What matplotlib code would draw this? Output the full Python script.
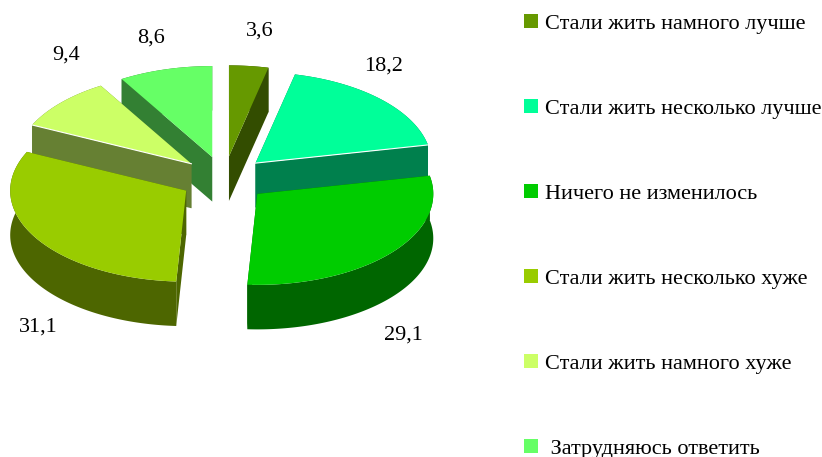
import numpy as np
import matplotlib
matplotlib.use("Agg")
import matplotlib.pyplot as plt
from matplotlib.colors import to_rgb
from matplotlib.patches import Patch

categories = ["Стали жить намного лучше", "Стали жить несколько лучше",
              "Ничего не изменилось", "Стали жить несколько хуже",
              "Стали жить намного хуже", " Затрудняюсь ответить"]
values = [3.6, 18.2, 29.1, 31.1, 9.4, 8.6]
value_labels = ["3,6", "18,2", "29,1", "31,1", "9,4", "8,6"]
colors = ["#669900", "#00FF99", "#00CC00", "#99CC00", "#CCFF66", "#66FF66"]

# layout / style (pixels of the 822x457 canvas)
label_pos = [(260, 31), (384, 66), (403, 335), (38, 327), (66, 55), (151, 38)]
CX, CY, RX, RY, DEPTH, EXPLODE = 224, 179, 176, 91, 44.5, 0.25
DRAW_ORDER = [0, 5, 4, 1, 3, 2]
HIGHLIGHT_END = {1: True}
HIGHLIGHT_START = {4: True}

plt.rcParams["font.family"] = ["Liberation Serif", "DejaVu Serif"]
fig = plt.figure(figsize=(8.22, 4.57), dpi=100)
ax = fig.add_axes([0, 0, 1, 1])
ax.set_xlim(0, 822)
ax.set_ylim(457, 0)
ax.axis("off")

edges = np.concatenate([[0], np.cumsum(values)]) / np.sum(values) * 2 * np.pi


def project(theta, tipx, tipy):
    return tipx + RX * np.sin(theta), tipy - RY * np.cos(theta)


for z, i in enumerate(DRAW_ORDER, start=1):
    a0, a1 = edges[i], edges[i + 1]
    mid = (a0 + a1) / 2
    tx = CX + EXPLODE * RX * np.sin(mid)
    ty = CY - EXPLODE * RY * np.cos(mid)
    th = np.linspace(a0, a1, 120)
    ax_, ay_ = project(th, tx, ty)
    top = to_rgb(colors[i])
    dark = tuple(c * 0.5 for c in top)
    ax.fill(np.r_[ax_, ax_[::-1]], np.r_[ay_, ay_[::-1] + DEPTH], color=dark, lw=0, zorder=z)
    for x_end, y_end in ((ax_[0], ay_[0]), (ax_[-1], ay_[-1])):
        ax.fill([tx, x_end, x_end, tx], [ty, y_end, y_end + DEPTH, ty + DEPTH],
                color=dark, lw=0, zorder=z)
    ax.fill(np.r_[tx, ax_], np.r_[ty, ay_], color=top, lw=0, zorder=z)
    if i in HIGHLIGHT_END:
        ax.plot([tx, ax_[-1]], [ty, ay_[-1]], color="white", lw=0.8, zorder=z)
    if i in HIGHLIGHT_START:
        ax.plot([tx, ax_[0]], [ty, ay_[0]], color="white", lw=0.8, zorder=z)

for (x, y), s in zip(label_pos, value_labels):
    ax.text(x, y, s, fontsize=16, ha="center", va="center", color="black", zorder=20)

handles = [Patch(facecolor=c, edgecolor="none") for c in colors]
ax.legend(handles, categories, loc="upper left", bbox_to_anchor=(524 / 822, 1 - 14 / 457),
          frameon=False, fontsize=16, labelspacing=2.92, handlelength=0.62, handleheight=0.62,
          handletextpad=0.34, borderpad=0, borderaxespad=0)

fig.savefig("out.png", dpi=100)
